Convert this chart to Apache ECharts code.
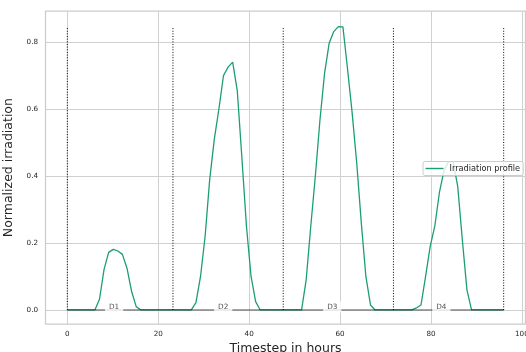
<!DOCTYPE html>
<html>
<head>
<meta charset="utf-8">
<script src="https://cdn.jsdelivr.net/npm/echarts@6/dist/echarts.min.js"></script>
<style>
html,body{margin:0;padding:0;background:#fff;}
#chart{width:526px;height:352px;}
</style>
</head>
<body>
<div id="chart"></div>
<script>
// Normalized irradiation, 96 samples spread evenly over 0..96 hours
var irradiation = [
  0, 0, 0, 0, 0, 0, 0, 0.032, 0.121, 0.172, 0.181, 0.176, 0.166, 0.124, 0.055, 0.01,
  0, 0, 0, 0, 0, 0, 0, 0, 0, 0, 0, 0, 0.022, 0.10, 0.22, 0.39,
  0.51, 0.60, 0.70, 0.725, 0.74, 0.655, 0.455, 0.25, 0.10, 0.025, 0, 0, 0, 0, 0, 0,
  0, 0, 0, 0, 0.09, 0.25, 0.40, 0.567, 0.706, 0.796, 0.831, 0.846, 0.845, 0.72, 0.59, 0.44,
  0.26, 0.10, 0.015, 0, 0, 0, 0, 0, 0, 0, 0, 0, 0.006, 0.015, 0.10, 0.19,
  0.25, 0.35, 0.416, 0.443, 0.443, 0.368, 0.209, 0.06, 0, 0, 0, 0, 0, 0, 0, 0
];
var timeSpan = 96;                       // hours covered by the samples
var dayDividerIndex = [0, 23, 47, 71, 95]; // sample index of each day boundary
var dayLabels = ['D1', 'D2', 'D3', 'D4'];
var dayLabelX = [10.3, 34.3, 58.3, 82.3];
var baselineRange = [0, 96];
var xTicks = [0, 20, 40, 60, 80, 100];
var yTicks = [0, 0.2, 0.4, 0.6, 0.8];
var xRange = [-4.8, 100.8];
var yRange = [-0.0425, 0.8925];

var FONT = 'DejaVu Sans';
var green = '#1b9e77';
var peak = Math.max.apply(null, irradiation);
var n = irradiation.length;
function hourOf(i) { return i * timeSpan / (n - 1); }

var series = [];
series.push({
  name: 'Irradiation profile',
  type: 'line',
  data: irradiation.map(function (v, i) { return [hourOf(i), v]; }),
  symbol: 'none',
  lineStyle: { color: green, width: 1.3 },
  itemStyle: { color: green },
  z: 2
});
series.push({
  name: 'baseline',
  type: 'line',
  data: [[baselineRange[0], 0], [baselineRange[1], 0]],
  symbol: 'none',
  lineStyle: { color: 'rgba(0,0,0,0.65)', width: 1 },
  z: 3,
  silent: true
});
dayDividerIndex.forEach(function (idx, i) {
  var x = hourOf(idx);
  series.push({
    name: 'divider' + i,
    type: 'line',
    data: [[x, 0], [x, peak]],
    symbol: 'none',
    lineStyle: { color: '#000', width: 1, type: [1, 1.65] },
    z: 3,
    silent: true
  });
});
series.push({
  name: 'days',
  type: 'scatter',
  data: dayLabels.map(function (d, i) { return { name: d, value: [dayLabelX[i], 0] }; }),
  symbolSize: 0.1,
  itemStyle: { color: 'rgba(0,0,0,0)' },
  label: {
    show: true,
    formatter: '{b}',
    position: [0, 0],
    align: 'center',
    verticalAlign: 'middle',
    offset: [0, -3],
    fontFamily: FONT,
    fontSize: 7.3,
    color: '#262626',
    backgroundColor: '#ffffff',
    padding: [2, 4, 2, 4]
  },
  z: 5,
  silent: true
});

var chart = echarts.init(document.getElementById('chart'), null, { renderer: 'canvas' });
chart.setOption({
  animation: false,
  backgroundColor: '#ffffff',
  grid: {
    left: 45.5, right: 0.5, top: 11, bottom: 27.8,
    outerBoundsMode: 'none',
    containLabel: false,
    show: true, borderColor: '#cccccc', borderWidth: 1.25, backgroundColor: 'transparent'
  },
  legend: {
    data: [{ name: 'Irradiation profile', icon: 'rect' }],
    left: 423, top: 161.5,
    orient: 'vertical',
    padding: [3, 3, 3, 2.5],
    itemWidth: 18, itemHeight: 1.4,
    backgroundColor: 'rgba(255,255,255,0.8)',
    borderColor: '#cccccc', borderWidth: 1, borderRadius: 2,
    textStyle: { fontFamily: FONT, fontSize: 8.2, color: '#262626', padding: [0, 0, 0, 1] }
  },
  xAxis: {
    type: 'value',
    min: xRange[0], max: xRange[1],
    name: 'Timestep in hours',
    nameLocation: 'middle', nameGap: 15,
    nameTextStyle: { fontFamily: FONT, fontSize: 12.5, color: '#262626' },
    axisLine: { show: false },
    axisTick: { show: false, customValues: xTicks },
    axisLabel: { customValues: xTicks, fontFamily: FONT, fontSize: 7.2, color: '#262626', margin: 6 },
    splitLine: { show: true, lineStyle: { color: '#d0d0d0', width: 1 } }
  },
  yAxis: {
    type: 'value',
    min: yRange[0], max: yRange[1],
    name: 'Normalized irradiation',
    nameLocation: 'middle', nameGap: 19,
    nameTextStyle: { fontFamily: FONT, fontSize: 12.5, color: '#262626' },
    axisLine: { show: false },
    axisTick: { show: false, customValues: yTicks },
    axisLabel: {
      customValues: yTicks, fontFamily: FONT, fontSize: 7.2, color: '#262626', margin: 7.5,
      formatter: function (v) { return v.toFixed(1); }
    },
    splitLine: { show: true, lineStyle: { color: '#d0d0d0', width: 1 } }
  },
  series: series
});
</script>
</body>
</html>
